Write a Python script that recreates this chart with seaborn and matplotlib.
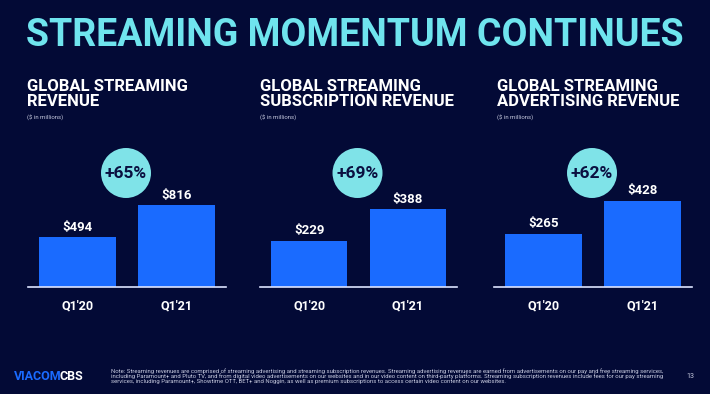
import matplotlib
matplotlib.use("Agg")
import matplotlib.pyplot as plt
from matplotlib.patches import Ellipse
import seaborn as sns
import pandas as pd

quarters = ["Q1'20", "Q1'21"]
total_revenue = [494, 816]
subscription_revenue = [229, 388]
advertising_revenue = [265, 428]
growth_labels = ["+65%", "+69%", "+62%"]
panel_titles = ["GLOBAL STREAMING\nREVENUE",
                "GLOBAL STREAMING\nSUBSCRIPTION REVENUE",
                "GLOBAL STREAMING\nADVERTISING REVENUE"]
unit_note = "($ in millions)"
main_title = "STREAMING MOMENTUM CONTINUES"
footnote = ("Note: Streaming revenues are comprised of streaming advertising and streaming subscription revenues. "
            "Streaming advertising revenues are earned from advertisements on our pay and free streaming services,\n"
            "including Paramount+ and Pluto TV, and from digital video advertisements on our websites and in our video "
            "content on third-party platforms. Streaming subscription revenues include fees for our pay streaming\n"
            "services, including Paramount+, Showtime OTT, BET+ and Noggin, as well as premium subscriptions to access "
            "certain video content on our websites.")
page_no = "13"

BG = "#030a36"
BAR = "#1a6bff"
CYAN = "#6fe4ee"
CIRCLE = "#7fe3e8"
WHITE = "#ffffff"

sns.set_theme(style="white")
plt.rcParams["font.family"] = ["Roboto", "DejaVu Sans"]

W, H = 710, 394
fig = plt.figure(figsize=(7.1, 3.94), dpi=100, facecolor=BG)

def fx(px):
    return px / W

def fy(py):
    return 1 - py / H

# Title
fig.text(fx(26), fy(35), main_title, color=CYAN, fontsize=27, fontweight="bold",
         va="center", ha="left")

panels = [
    (total_revenue, 28, 226, 1562),
    (subscription_revenue, 260, 457, 781),
    (advertising_revenue, 494, 692, 781),
]
title_x = [27, 260, 497]

for i, (vals, x0, x1, ytop) in enumerate(panels):
    top_px, base_px = 130, 287
    ax = fig.add_axes([fx(x0), fy(base_px), fx(x1 - x0), (base_px - top_px) / H])
    ax.set_facecolor(BG)
    df = pd.DataFrame({"q": quarters, "v": vals})
    sns.barplot(data=df, x="q", y="v", ax=ax, color=BAR, saturation=1, width=0.77,
                edgecolor="none", linewidth=0)
    ax.set_xlim(-0.5, 1.5)
    ax.set_ylim(0, ytop)
    for sp in ["top", "right", "left"]:
        ax.spines[sp].set_visible(False)
    ax.spines["bottom"].set_color("#dde4ff")
    ax.spines["bottom"].set_linewidth(1.2)
    ax.set_yticks([])
    ax.set_xlabel("")
    ax.set_ylabel("")
    ax.tick_params(axis="x", length=0, pad=9, colors=WHITE, labelsize=9)
    for lab in ax.get_xticklabels():
        lab.set_fontweight("bold")
    for j, v in enumerate(vals):
        ax.annotate(f"${v}", (j, v), xytext=(0, 2.5), textcoords="offset points",
                    ha="center", va="bottom", color=WHITE, fontsize=9.5, fontweight="bold")
    # growth circle
    w_ax = 50 / (x1 - x0)
    h_ax = 50 / (base_px - top_px)
    cx = (0.49 + 0.5) / 2.0
    cy = 114 / (base_px - top_px)
    ax.add_patch(Ellipse((cx, cy), w_ax, h_ax, transform=ax.transAxes, facecolor=CIRCLE,
                         edgecolor="none", clip_on=False, zorder=5))
    ax.text(cx, cy, growth_labels[i], transform=ax.transAxes, ha="center", va="center",
            color="#0a1040", fontsize=12.5, fontweight="bold", zorder=6)
    # panel title
    fig.text(fx(title_x[i]), fy(79), panel_titles[i], color=WHITE, fontsize=12,
             fontweight="bold", va="top", ha="left", linespacing=1.0)
    fig.text(fx(title_x[i]), fy(117), unit_note, color="#c8cbe0", fontsize=4.3,
             va="center", ha="left")

# Footer
t1 = fig.text(fx(14), fy(376), "VIACOM", color=BAR, fontsize=9, fontweight="bold",
              va="center", ha="left")
fig.canvas.draw()
bb = t1.get_window_extent()
fig.text((bb.x1 - 2) / W, fy(376), "CBS", color=WHITE, fontsize=9, fontweight="bold",
         va="center", ha="left")
fig.text(fx(111), fy(376), footnote, color="#c8cbe0", fontsize=4.3, va="center", ha="left",
         linespacing=1.0)
fig.text(fx(690), fy(377), page_no, color="#c8cbe0", fontsize=5, va="center", ha="center")

fig.savefig("out.png", dpi=100, facecolor=BG)
